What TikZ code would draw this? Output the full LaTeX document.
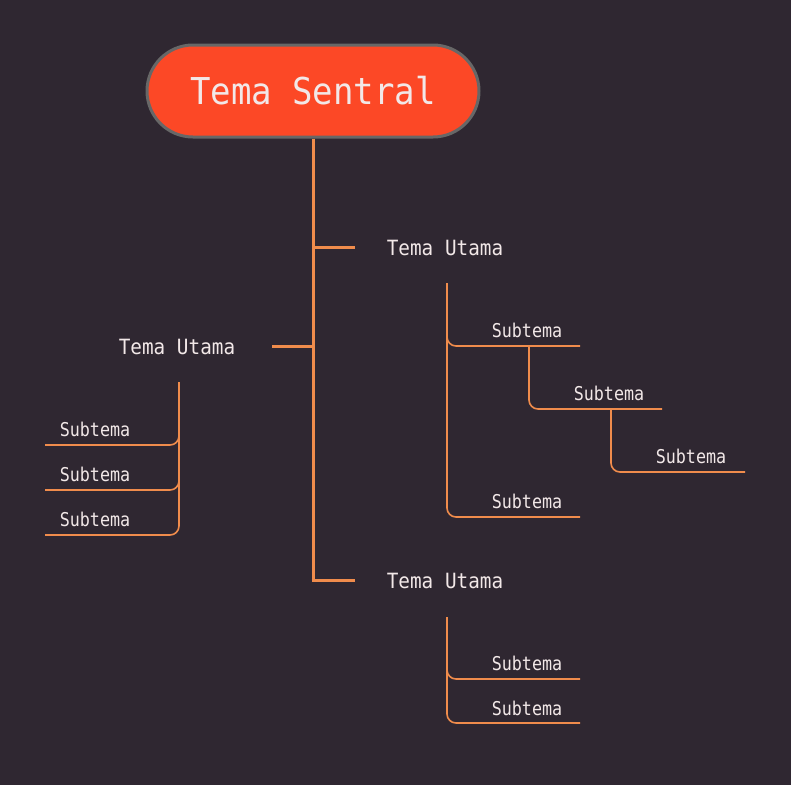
\documentclass[tikz,border=0pt]{standalone}
\usepackage{fontspec}
\newfontfamily\monofam[FakeStretch=0.92]{DejaVu Sans Mono}
\newfontfamily\monosub[FakeStretch=0.88]{DejaVu Sans Mono}
\definecolor{bg}{HTML}{2F2731}
\definecolor{central}{HTML}{FC4826}
\definecolor{rimgray}{HTML}{676767}
\definecolor{branch}{HTML}{F08C4C}
\definecolor{txt}{HTML}{F2E8E8}
\tikzset{
  central/.style={draw=rimgray, line width=3pt, fill=central, rounded corners=46pt,
    minimum width=332pt, minimum height=92pt, text=txt, font=\monofam\fontsize{37}{42}\selectfont},
  mainlbl/.style={text=txt, font=\monofam\fontsize{21}{25}\selectfont, inner sep=0pt},
  sublbl/.style={text=txt, font=\monosub\fontsize{19}{22}\selectfont, inner sep=0pt},
  trunk/.style={draw=branch, line width=3pt},
  twig/.style={draw=branch, line width=1.6pt, rounded corners=9pt}
}
\begin{document}
\begin{tikzpicture}[x=1pt,y=-1pt]
\fill[bg] (0,0) rectangle (791,785);
\useasboundingbox (0,0) rectangle (791,785);

\node[central] (root) at (313,91) {Tema Sentral};

% main topics
\node[mainlbl] (m1) at (445,248) {Tema Utama};
\node[mainlbl] (m2) at (177,347) {Tema Utama};
\node[mainlbl] (m3) at (445,581) {Tema Utama};

% trunk
\coordinate (tb) at (313,580);
\coordinate (e1) at (355,247);
\coordinate (e2) at (272,346);
\coordinate (e3) at (355,580);
\draw[trunk] (root.south) -- (tb);
\draw[trunk] (313,247) -- (e1);
\draw[trunk] (313,346) -- (e2);
\draw[trunk] (311.5,580) -- (e3);

% right top subtree
\node[sublbl] (s1) at (527,330) {Subtema};
\node[sublbl] (s11) at (609,393) {Subtema};
\node[sublbl] (s111) at (691,456) {Subtema};
\node[sublbl] (s2) at (527,501) {Subtema};
\coordinate (a0) at (447,283);
\coordinate (a1) at (580,346);
\coordinate (a2) at (580,517);
\coordinate (b1) at (662,409);
\coordinate (c1) at (745,472);
\draw[twig] (a0) -- (447,517) -- (a2);
\draw[twig] (447,330) -- (447,346) -- (a1);
\draw[twig] (529,346) -- (529,409) -- (b1);
\draw[twig] (611,409) -- (611,472) -- (c1);

% left subtree
\node[sublbl] (l1) at (95,429) {Subtema};
\node[sublbl] (l2) at (95,474) {Subtema};
\node[sublbl] (l3) at (95,519) {Subtema};
\coordinate (d0) at (179,382);
\coordinate (d1) at (45,445);
\coordinate (d2) at (45,490);
\coordinate (d3) at (45,535);
\draw[twig] (d0) -- (179,535) -- (d3);
\draw[twig] (179,430) -- (179,445) -- (d1);
\draw[twig] (179,475) -- (179,490) -- (d2);

% bottom subtree
\node[sublbl] (b1t) at (527,663) {Subtema};
\node[sublbl] (b2t) at (527,708) {Subtema};
\coordinate (f0) at (447,617);
\coordinate (f1) at (580,679);
\coordinate (f2) at (580,723);
\draw[twig] (f0) -- (447,723) -- (f2);
\draw[twig] (447,664) -- (447,679) -- (f1);
\end{tikzpicture}
\end{document}
